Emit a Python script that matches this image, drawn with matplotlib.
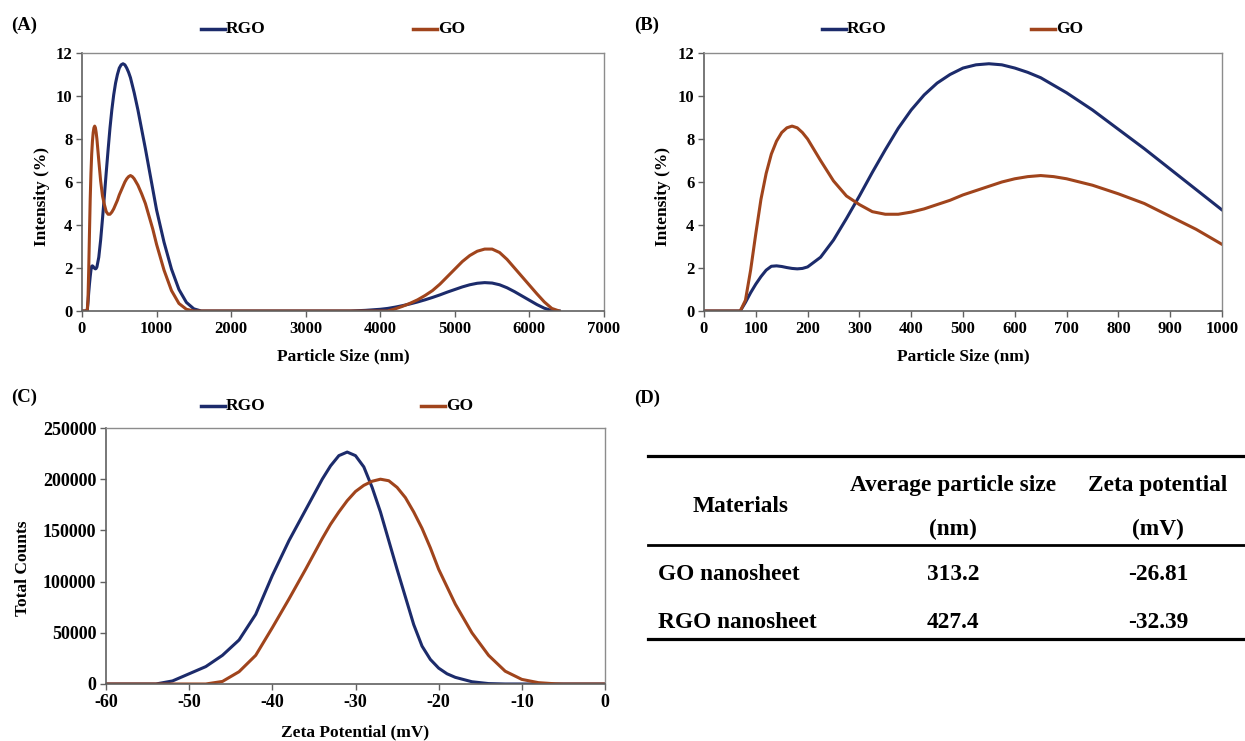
import matplotlib
matplotlib.use("Agg")
import matplotlib.pyplot as plt
from matplotlib.lines import Line2D

plt.rcParams['font.family'] = ['Liberation Serif', 'DejaVu Serif']
plt.rcParams['font.weight'] = 'bold'
plt.rcParams['axes.labelweight'] = 'bold'
plt.rcParams['axes.unicode_minus'] = False

RGO_COLOR = '#1c2b6b'
GO_COLOR = '#a0441c'

# particle size distribution (nm, intensity %)
size_nm = [0, 50, 70, 80, 90, 100, 110, 120, 130, 140, 150, 160, 170, 180, 190, 200,
           225, 250, 275, 300, 325, 350, 375, 400, 425, 450, 475, 500, 525, 550, 575,
           600, 625, 650, 675, 700, 750, 800, 850, 900, 950, 1000, 1100, 1200, 1300,
           1400, 1500, 1600, 2000, 3000, 3600, 3800, 4000, 4100, 4200, 4300, 4400,
           4500, 4600, 4700, 4800, 4900, 5000, 5100, 5200, 5300, 5400, 5500, 5600,
           5700, 5800, 5900, 6000, 6100, 6200, 6300, 6400]
rgo_intensity = [0, 0, 0, 0.4, 0.85, 1.25, 1.6, 1.9, 2.08, 2.1, 2.07, 2.02, 1.98, 1.96, 1.98, 2.05,
                 2.5, 3.3, 4.3, 5.35, 6.45, 7.5, 8.5, 9.35, 10.05, 10.6, 11.0, 11.3, 11.45, 11.5, 11.45,
                 11.3, 11.1, 10.85, 10.5, 10.15, 9.35, 8.45, 7.55, 6.6, 5.65, 4.7, 3.2, 1.95, 1.0,
                 0.4, 0.1, 0, 0, 0, 0, 0.03, 0.08, 0.12, 0.18, 0.25, 0.33,
                 0.42, 0.52, 0.63, 0.75, 0.88, 1.0, 1.12, 1.22, 1.29, 1.32, 1.3, 1.22,
                 1.08, 0.9, 0.7, 0.5, 0.3, 0.13, 0.02, 0]
go_intensity = [0, 0, 0, 0.5, 1.9, 3.6, 5.2, 6.4, 7.3, 7.9, 8.3, 8.52, 8.6, 8.52, 8.3, 8.0,
                7.0, 6.05, 5.35, 4.95, 4.62, 4.5, 4.5, 4.6, 4.75, 4.95, 5.15, 5.4, 5.6, 5.8, 6.0,
                6.15, 6.25, 6.3, 6.25, 6.15, 5.85, 5.45, 5.0, 4.4, 3.8, 3.1, 1.9, 0.95, 0.35,
                0.08, 0, 0, 0, 0, 0, 0, 0, 0, 0.1, 0.22, 0.36,
                0.52, 0.72, 0.95, 1.25, 1.6, 1.95, 2.3, 2.58, 2.78, 2.88, 2.88, 2.72,
                2.4, 2.0, 1.6, 1.2, 0.8, 0.42, 0.12, 0]

# zeta potential distribution (mV, total counts)
zeta_mv = [-60, -54, -52, -50, -48, -46, -44, -42, -40, -38, -36, -34, -33, -32, -31, -30,
           -29, -28, -27, -26, -25, -24, -23, -22, -21, -20, -19, -18, -16, -14, -12, -10,
           -8, -6, -5, 0]
rgo_counts = [0, 0, 3000, 10000, 17000, 28000, 43000, 68000, 106000, 140000, 170000, 200000,
              213000, 223000, 226500, 223000, 212000, 192000, 168000, 140000, 112000, 85000,
              58000, 37000, 24000, 15500, 10000, 6500, 2200, 400, 0, 0, 0, 0, 0, 0]
go_counts = [0, 0, 0, 0, 0, 2500, 12000, 28000, 55000, 83000, 112000, 142000, 156000, 168000,
             179000, 188000, 194000, 198000, 200000, 198500, 192000, 182000, 168000, 152000,
             133000, 112000, 95000, 78000, 50000, 28000, 12500, 4500, 1300, 200, 0, 0]

# table
table_header = ['Materials', 'Average particle size', 'Zeta potential']
table_units = ['', '(nm)', '(mV)']
materials = ['GO nanosheet', 'RGO nanosheet']
avg_size = ['313.2', '427.4']
zeta_avg = ['-26.81', '-32.39']

W, H = 1245, 741
fig = plt.figure(figsize=(W / 100, H / 100), dpi=100)


def px_axes(left, top, right, bottom):
    return fig.add_axes([left / W, 1 - bottom / H, (right - left) / W, (bottom - top) / H])


def style(ax, tick_size=12):
    for s in ['top', 'right']:
        ax.spines[s].set_color('#8c8c8c')
        ax.spines[s].set_linewidth(1.0)
    for s in ['left', 'bottom']:
        ax.spines[s].set_color('#606060')
        ax.spines[s].set_linewidth(1.2)
    ax.tick_params(direction='out', length=4, width=1, labelsize=tick_size, pad=3,
                   color='#606060')
    for lab in ax.get_xticklabels() + ax.get_yticklabels():
        lab.set_fontweight('bold')


def legend_row(y, x_rgo, x_go):
    for x0, name, col in [(x_rgo, 'RGO', RGO_COLOR), (x_go, 'GO', GO_COLOR)]:
        fig.add_artist(Line2D([x0 / W, (x0 + 24) / W], [1 - y / H, 1 - y / H],
                              color=col, lw=2.5, transform=fig.transFigure))
        fig.text((x0 + 25) / W, 1 - y / H, name, fontsize=12.5, fontweight='bold',
                 va='center', ha='left')


# (A)
axA = px_axes(82, 53, 604, 311)
axA.plot(size_nm, rgo_intensity, color=RGO_COLOR, lw=2.2)
axA.plot(size_nm, go_intensity, color=GO_COLOR, lw=2.2)
axA.set_xlim(0, 7000)
axA.set_ylim(0, 12)
axA.set_xticks(range(0, 7001, 1000))
axA.set_yticks(range(0, 13, 2))
axA.set_xlabel('Particle Size (nm)', fontsize=12.5)
axA.set_ylabel('Intensity (%)', fontsize=12.5)
axA.xaxis.set_label_coords(0.5, -0.143)
axA.yaxis.set_label_coords(-0.061, 0.442)
style(axA)
legend_row(29, 201, 413)
fig.text(11 / W, 1 - 25 / H, '(A)', fontsize=13.5, fontweight='bold', va='center')

# (B)
axB = px_axes(704, 53, 1222, 311)
axB.plot(size_nm, rgo_intensity, color=RGO_COLOR, lw=2.2)
axB.plot(size_nm, go_intensity, color=GO_COLOR, lw=2.2)
axB.set_xlim(0, 1000)
axB.set_ylim(0, 12)
axB.set_xticks(range(0, 1001, 100))
axB.set_yticks(range(0, 13, 2))
axB.set_xlabel('Particle Size (nm)', fontsize=12.5)
axB.set_ylabel('Intensity (%)', fontsize=12.5)
axB.xaxis.set_label_coords(0.5, -0.143)
axB.yaxis.set_label_coords(-0.064, 0.442)
style(axB)
legend_row(29, 822, 1031)
fig.text(634 / W, 1 - 25 / H, '(B)', fontsize=13.5, fontweight='bold', va='center')

# (C)
axC = px_axes(106, 428, 605, 684)
axC.plot(zeta_mv, rgo_counts, color=RGO_COLOR, lw=2.2)
axC.plot(zeta_mv, go_counts, color=GO_COLOR, lw=2.2)
axC.set_xlim(-60, 0)
axC.set_ylim(0, 250000)
axC.set_xticks(range(-60, 1, 10))
axC.set_yticks(range(0, 250001, 50000))
axC.set_xlabel('Zeta Potential (mV)', fontsize=12.5)
axC.set_ylabel('Total Counts', fontsize=12.5)
axC.xaxis.set_label_coords(0.5, -0.156)
axC.yaxis.set_label_coords(-0.151, 0.453)
style(axC, tick_size=13)
legend_row(406, 201, 421)
fig.text(11 / W, 1 - 397 / H, '(C)', fontsize=13.5, fontweight='bold', va='center')

# (D) table
fig.text(634 / W, 1 - 398 / H, '(D)', fontsize=13.5, fontweight='bold', va='center')
for y, lw in [(456, 2.3), (545, 2.0), (639, 2.3)]:
    fig.add_artist(Line2D([648 / W, 1245 / W], [1 - y / H, 1 - y / H],
                          color='black', lw=lw, transform=fig.transFigure))

TS = 16.8
col_x = [741, 953, 1158]
fig.text(col_x[0] / W, 1 - 507 / H, table_header[0], fontsize=TS, fontweight='bold',
         ha='center', va='center')
for i in (1, 2):
    fig.text(col_x[i] / W, 1 - 486 / H, table_header[i], fontsize=TS, fontweight='bold',
             ha='center', va='center')
    fig.text(col_x[i] / W, 1 - 529 / H, table_units[i], fontsize=TS, fontweight='bold',
             ha='center', va='center')

for j, y in enumerate([575, 622]):
    fig.text(658 / W, 1 - y / H, materials[j], fontsize=TS, fontweight='bold',
             ha='left', va='center')
    fig.text(col_x[1] / W, 1 - y / H, avg_size[j], fontsize=TS, fontweight='bold',
             ha='center', va='center')
    fig.text(col_x[2] / W, 1 - y / H, zeta_avg[j], fontsize=TS, fontweight='bold',
             ha='center', va='center')

fig.savefig('out.png', dpi=100)
